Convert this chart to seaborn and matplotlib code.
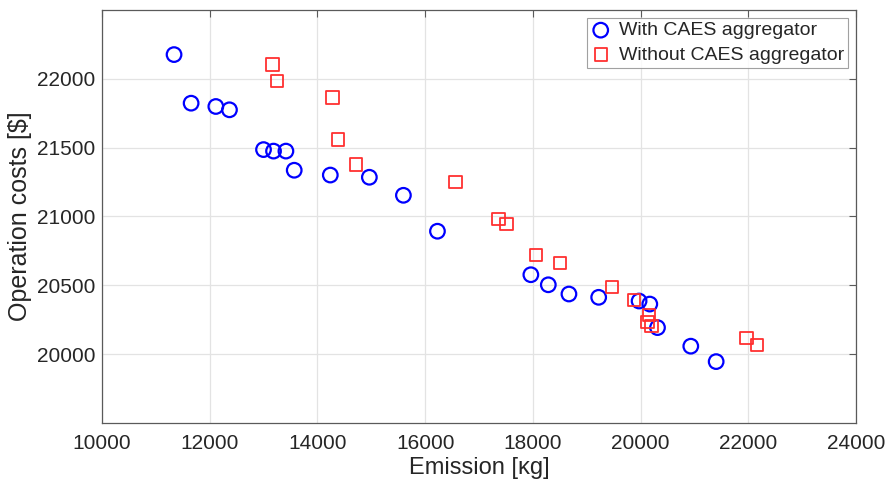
import matplotlib
matplotlib.use("Agg")
import matplotlib.pyplot as plt
import seaborn as sns
import pandas as pd

# Emission [kg] vs operation cost [$] for each operating point
with_emission = [11338, 11655, 12114, 12367, 12999, 13185, 13415, 13569, 14239,
                 14964, 15596, 16228, 17962, 18286, 18669, 19221, 19971, 20170,
                 20313, 20931, 21402]
with_cost = [22176, 21823, 21799, 21775, 21486, 21475, 21475, 21336, 21301,
             21285, 21154, 20893, 20577, 20504, 20437, 20413, 20386, 20364,
             20193, 20058, 19946]

without_emission = [13166, 13253, 14281, 14380, 14715, 16563, 17362, 17511,
                    18055, 18508, 19469, 19872, 20156, 20130, 20200, 21967, 22158]
without_cost = [22104, 21983, 21865, 21558, 21379, 21249, 20980, 20944,
                20720, 20664, 20488, 20393, 20283, 20235, 20205, 20116, 20065]

series_labels = ["With CAES aggregator", "Without CAES aggregator"]
x_ticks = [10000, 12000, 14000, 16000, 18000, 20000, 22000, 24000]
y_ticks = [20000, 20500, 21000, 21500, 22000]

sns.set_style("white")
plt.rcParams["font.family"] = ["Liberation Sans", "DejaVu Sans"]

df_with = pd.DataFrame({"Emission": with_emission, "Cost": with_cost})
df_without = pd.DataFrame({"Emission": without_emission, "Cost": without_cost})

fig = plt.figure(figsize=(8.89, 4.87), dpi=100)
ax = fig.add_axes([0.1147, 0.1314, 0.8483, 0.8481])

sns.scatterplot(data=df_with, x="Emission", y="Cost", ax=ax, marker="o", s=110,
                facecolor="none", edgecolor="#0000ff", linewidth=1.6,
                label=series_labels[0], zorder=3)
sns.scatterplot(data=df_without, x="Emission", y="Cost", ax=ax, marker="s", s=80,
                facecolor="none", edgecolor="#ff3030", linewidth=1.3,
                label=series_labels[1], zorder=3)

ax.set_xlim(10000, 24000)
ax.set_ylim(19500, 22500)
ax.set_xticks(x_ticks)
ax.set_yticks(y_ticks)
ax.set_xticklabels([str(t) for t in x_ticks])
ax.set_yticklabels([str(t) for t in y_ticks])

ax.grid(True, color="#e3e3e3", linewidth=0.9)
ax.set_axisbelow(True)
for sp in ax.spines.values():
    sp.set_color("#5a5a5a")
    sp.set_linewidth(0.9)
ax.tick_params(direction="in", length=5, width=0.8, color="#5a5a5a",
               labelsize=15, labelcolor="#262626", top=True, right=True)
ax.tick_params(axis="x", pad=8)
ax.tick_params(axis="y", pad=5)

ax.set_xlabel("Emission [κg]", fontsize=17, color="#262626", labelpad=3)
ax.set_ylabel("Operation costs [$]", fontsize=18, color="#262626", labelpad=3)

leg = ax.legend(loc="upper right", fontsize=14, frameon=True, fancybox=False,
                edgecolor="#8a8a8a", borderaxespad=0.4, handletextpad=0.45,
                handlelength=1.0, borderpad=0.2, labelspacing=0.35)
leg.get_frame().set_linewidth(0.8)

fig.savefig("out.png", dpi=100, facecolor="white")
